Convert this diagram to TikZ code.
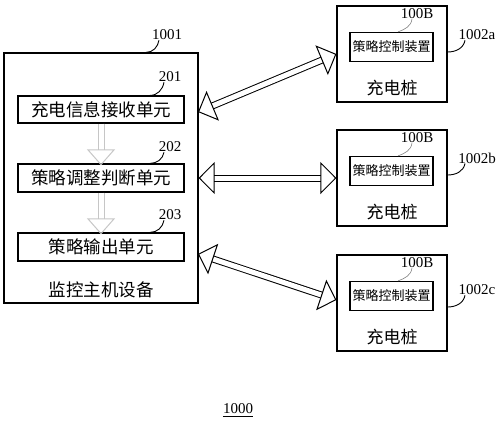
\documentclass[tikz,border=0pt]{standalone}
\usepackage{fontspec}
\setmainfont{Liberation Serif}
\newfontfamily\cjk{Noto Sans CJK SC}
\usetikzlibrary{arrows.meta, positioning}
\tikzstyle{box} = [rectangle, draw, line width = 1.2pt, inner sep = 0pt]
\tikzstyle{unit} = [box, minimum width = 166pt, minimum height = 27pt, font = \cjk\fontsize{17.5}{18}\selectfont]
\tikzstyle{pile} = [box, minimum width = 110pt, minimum height = 96pt]
\tikzstyle{ctrl} = [box, minimum width = 83pt, minimum height = 29pt, font = \cjk\fontsize{13}{14}\selectfont]
\tikzstyle{num} = [inner sep = 0pt, font = \fontsize{15}{15}\selectfont]
\tikzstyle{lead} = [draw, line width = 0.9pt]
\tikzstyle{leadgray} = [draw, line width = 0.6pt, gray]
\tikzstyle{link} = [draw, double = white, double distance = 5pt, line width = 1pt, {Triangle[open, length = 16pt, width = 32pt]}-{Triangle[open, length = 16pt, width = 32pt]}]
\tikzstyle{flow} = [draw, gray!45, double = white, double distance = 5pt, line width = 1pt, -{Triangle[open, length = 16pt, width = 28pt]}]

\begin{document}
\begin{tikzpicture}[x = 1pt, y = -1pt]
			\useasboundingbox (0, 0) rectangle (500, 423);
			% Place nodes
			\node [box, minimum width = 194pt, minimum height = 250pt] (host) at (101, 178) {};
			\node [unit] (recv) at (101, 109.5) {充电信息接收单元};
			\node [unit, minimum height = 28pt] (judge) at (101, 178) {策略调整判断单元};
			\node [unit, minimum height = 28pt] (output) at (101, 247) {策略输出单元};
			\node [font = \cjk\fontsize{17.5}{18}\selectfont] (hostname) at (101, 290) {监控主机设备};
			
			\node [pile] (pilea) at (392, 54) {};
			\node [pile] (pileb) at (392, 178) {};
			\node [pile] (pilec) at (392, 303) {};
			\node [ctrl] (ctrla) at (391.5, 47) {策略控制装置};
			\node [ctrl] (ctrlb) at (391.5, 171) {策略控制装置};
			\node [ctrl] (ctrlc) at (391.5, 296) {策略控制装置};
			\node [font = \cjk\fontsize{17}{17}\selectfont] (namea) at (392, 88) {充电桩};
			\node [font = \cjk\fontsize{17}{17}\selectfont] (nameb) at (392, 212) {充电桩};
			\node [font = \cjk\fontsize{17}{17}\selectfont] (namec) at (392, 337) {充电桩};
			
			\node [num] (n1001) at (167, 35) {1001};
			\node [num] (n201) at (170, 77) {201};
			\node [num] (n202) at (170, 147) {202};
			\node [num] (n203) at (170, 215) {203};
			\node [num] (n1002a) at (477, 35) {1002a};
			\node [num] (n1002b) at (477, 158) {1002b};
			\node [num] (n1002c) at (477, 290) {1002c};
			\node [num] (n100Ba) at (417, 14) {100B};
			\node [num] (n100Bb) at (417, 138) {100B};
			\node [num] (n100Bc) at (417, 263) {100B};
			\node [num] (n1000) at (238, 409) {1000};
			
			% Draw edges
			\path [link] (198, 112) -- (pilea.west |- 0, 54);
			\path [link] (host.east |- pileb) -- (pileb.west);
			\path [link] (198, 254) -- (pilec.west |- 0, 300);
			\path [flow] (recv.south -| 101, 0) -- ([yshift = -2pt] judge.north);
			\path [flow] (judge.south -| 101, 0) -- ([yshift = -2pt] output.north);
			
			\path [lead] (host.north -| 146, 0) to [out = 0, in = -100] ([xshift = -8pt] n1001.south);
			\path [lead] (recv.north -| 150, 0) to [out = 0, in = -100] ([xshift = -6pt] n201.south);
			\path [lead] (judge.north -| 150, 0) to [out = 0, in = -100] ([xshift = -6pt] n202.south);
			\path [lead] (output.north -| 150, 0) to [out = 0, in = -100] ([xshift = -6pt] n203.south);
			\path [lead] (pilea.east |- 0, 52) to [out = 0, in = -100] ([xshift = -12pt] n1002a.south);
			\path [lead] (pileb.east |- 0, 175) to [out = 0, in = -100] ([xshift = -12pt] n1002b.south);
			\path [lead] (pilec.east |- 0, 307) to [out = 0, in = -100] ([xshift = -12pt] n1002c.south);
			\path [leadgray] (ctrla.north -| 398, 0) to [out = 20, in = -100] ([xshift = -5pt] n100Ba.south);
			\path [leadgray] (ctrlb.north -| 398, 0) to [out = 20, in = -100] ([xshift = -5pt] n100Bb.south);
			\path [leadgray] (ctrlc.north -| 398, 0) to [out = 20, in = -100] ([xshift = -5pt] n100Bc.south);
			\draw [line width = 0.8pt] ([yshift = -2pt] n1000.south west) -- ([yshift = -2pt] n1000.south east);
		\end{tikzpicture}
\end{document}
